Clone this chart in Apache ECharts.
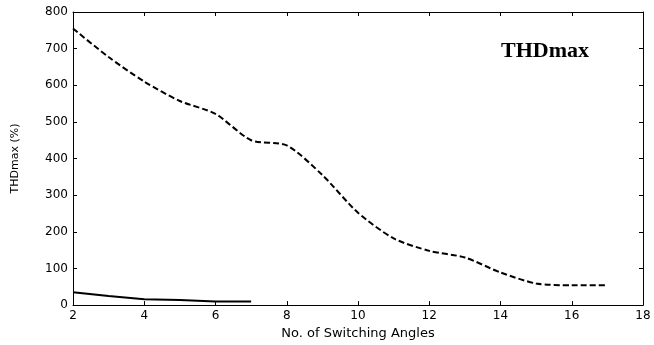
<!DOCTYPE html>
<html>
<head>
<meta charset="utf-8">
<script src="https://cdn.jsdelivr.net/npm/echarts@6/dist/echarts.min.js"></script>
<style>
  html, body { margin: 0; padding: 0; background: #fff; }
  #chart { width: 654px; height: 345px; }
</style>
</head>
<body>
<div id="chart"></div>
<script>
  // 数据：开关角数量 vs THDmax
  var anglesUpper = [2, 3, 4, 5, 6, 7, 8, 9, 10, 11, 12, 13, 14, 15, 16, 17]
  var thdUpper = [755, 677, 610, 557, 522, 450, 436, 355, 252, 182, 148, 130, 89, 59, 54, 54]
  var anglesLower = [2, 3, 4, 5, 6, 7]
  var thdLower = [35, 25, 16, 14, 10, 10]
  var xTicks = [2, 4, 6, 8, 10, 12, 14, 16, 18]
  var yTicks = [0, 100, 200, 300, 400, 500, 600, 700, 800]

  var chart = echarts.init(document.getElementById('chart'))

  var axisFont = { fontFamily: 'DejaVu Sans, Arial, sans-serif', fontSize: 12, color: '#000' }
  var lineStyle = { color: '#000', width: 1 }

  var xBase = {
    type: 'value',
    min: xTicks[0],
    max: xTicks[xTicks.length - 1],
    interval: 2,
    splitLine: { show: false },
    axisLine: { show: true, onZero: false, lineStyle: lineStyle },
    axisTick: { show: true, inside: true, length: 4, lineStyle: lineStyle }
  }
  var yBase = {
    type: 'value',
    min: yTicks[0],
    max: yTicks[yTicks.length - 1],
    interval: 100,
    splitLine: { show: false },
    axisLine: { show: true, onZero: false, lineStyle: lineStyle },
    axisTick: { show: true, inside: true, length: 4, lineStyle: lineStyle }
  }

  var option = {
    backgroundColor: '#fff',
    animation: false,
    grid: { left: 73, top: 12, right: 11, bottom: 37 },
    title: {
      text: 'THDmax',
      left: 496,
      top: 35,
      textStyle: { fontFamily: 'Liberation Serif, Times New Roman, serif', fontWeight: 'bold', fontSize: 22, color: '#000' }
    },
    xAxis: [
      Object.assign({}, xBase, {
        position: 'bottom',
        name: 'No. of Switching Angles',
        nameLocation: 'middle',
        nameGap: 19,
        nameTextStyle: { fontFamily: 'DejaVu Sans, Arial, sans-serif', fontSize: 13, color: '#000' },
        axisLabel: Object.assign({ margin: 5 }, axisFont)
      }),
      Object.assign({}, xBase, { position: 'top', axisLabel: { show: false } })
    ],
    yAxis: [
      Object.assign({}, yBase, {
        position: 'left',
        name: 'THDmax (%)',
        nameLocation: 'middle',
        nameGap: 52,
        nameTextStyle: { fontFamily: 'DejaVu Sans, Arial, sans-serif', fontSize: 11, color: '#000' },
        axisLabel: Object.assign({ margin: 5 }, axisFont)
      }),
      Object.assign({}, yBase, { position: 'right', axisLabel: { show: false } })
    ],
    series: [
      {
        type: 'line',
        data: anglesUpper.map(function (x, i) { return [x, thdUpper[i]] }),
        smooth: 0.25,
        symbol: 'none',
        lineStyle: { color: '#000', width: 2, type: [6, 3] }
      },
      {
        type: 'line',
        data: anglesLower.map(function (x, i) { return [x, thdLower[i]] }),
        symbol: 'none',
        lineStyle: { color: '#000', width: 2 }
      }
    ]
  }

  chart.setOption(option)
</script>
</body>
</html>
